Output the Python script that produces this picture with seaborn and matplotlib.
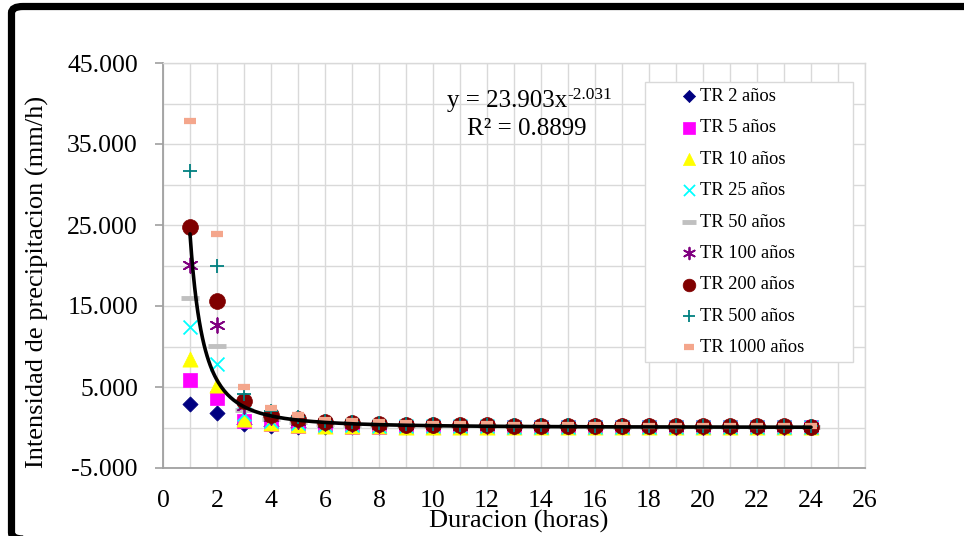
import numpy as np
import pandas as pd
import matplotlib
matplotlib.use('Agg')
import matplotlib.pyplot as plt
from matplotlib.patches import FancyBboxPatch, Rectangle
from matplotlib.ticker import MultipleLocator
import seaborn as sns

# Data (intensity in mm/h for each duration in hours)
duracion = list(range(1, 25))

tr2 = [2.9, 1.83, 0.38, 0.19, 0.12, 0.073, 0.059, 0.049, 0.042, 0.037, 0.033, 0.029,
       0.027, 0.025, 0.023, 0.021, 0.02, 0.019, 0.018, 0.017, 0.016, 0.015, 0.015, 0.014]
tr5 = [5.85, 3.7, 0.77, 0.38, 0.24, 0.15, 0.12, 0.1, 0.085, 0.076, 0.066, 0.059,
       0.055, 0.05, 0.047, 0.043, 0.04, 0.038, 0.036, 0.034, 0.033, 0.031, 0.03, 0.028]
tr10 = [8.4, 5.3, 1.1, 0.54, 0.34, 0.21, 0.17, 0.14, 0.12, 0.11, 0.095, 0.085,
        0.078, 0.071, 0.068, 0.061, 0.058, 0.054, 0.051, 0.049, 0.048, 0.044, 0.043, 0.041]
tr25 = [12.45, 7.9, 1.64, 0.81, 0.5, 0.31, 0.25, 0.21, 0.18, 0.16, 0.14, 0.13,
        0.12, 0.11, 0.1, 0.091, 0.086, 0.081, 0.076, 0.073, 0.071, 0.066, 0.063, 0.061]
tr50 = [16.0, 10.1, 2.1, 1.04, 0.65, 0.4, 0.32, 0.27, 0.23, 0.21, 0.18, 0.16,
        0.15, 0.14, 0.13, 0.12, 0.11, 0.1, 0.097, 0.094, 0.091, 0.084, 0.081, 0.078]
tr100 = [20.1, 12.7, 2.65, 1.3, 0.81, 0.5, 0.41, 0.34, 0.29, 0.26, 0.23, 0.2,
         0.19, 0.17, 0.16, 0.15, 0.14, 0.13, 0.12, 0.118, 0.114, 0.106, 0.102, 0.098]
tr200 = [24.7, 15.6, 3.25, 1.6, 1.0, 0.62, 0.5, 0.42, 0.36, 0.32, 0.28, 0.25,
         0.23, 0.21, 0.2, 0.18, 0.17, 0.16, 0.15, 0.145, 0.14, 0.13, 0.125, 0.12]
tr500 = [31.7, 20.0, 4.16, 2.05, 1.28, 0.79, 0.64, 0.54, 0.46, 0.41, 0.36, 0.32,
         0.29, 0.27, 0.26, 0.23, 0.22, 0.2, 0.19, 0.19, 0.18, 0.17, 0.16, 0.15]
tr1000 = [37.8, 23.9, 4.97, 2.45, 1.53, 0.95, 0.77, 0.64, 0.55, 0.49, 0.43, 0.38,
          0.35, 0.32, 0.31, 0.28, 0.26, 0.24, 0.23, 0.22, 0.21, 0.2, 0.19, 0.18]

labels = ['TR 2 años', 'TR 5 años', 'TR 10 años', 'TR 25 años', 'TR 50 años',
          'TR 100 años', 'TR 200 años', 'TR 500 años', 'TR 1000 años']

# power trend line shown on the chart
coef_a = 23.903
coef_b = -2.031
r2 = 0.8899

# Style
sns.set_theme(style='white')
plt.rcParams['font.family'] = ['Liberation Serif', 'DejaVu Serif']

series = [tr2, tr5, tr10, tr25, tr50, tr100, tr200, tr500, tr1000]
# marker, size, color, linewidth
styles = [
    ('D', 60, '#000080', 0),
    ('s', 110, '#FF00FF', 0),
    ('^', 120, '#FFFF00', 0),
    ('x', 100, '#00FFFF', 1.3),
    ('_', 170, '#C0C0C0', 3.5),
    ((6, 2, 0), 110, '#800080', 1.3),
    ('o', 130, '#800000', 0),
    ('+', 110, '#008080', 1.3),
    ('_', 80, '#F4A68C', 4.5),
]

fig = plt.figure(figsize=(9.64, 5.36), dpi=100)
ax = fig.add_axes([163 / 964, 1 - 468 / 536, 702 / 964, 405 / 536])

for vals, lab, (mk, sz, col, lw) in zip(series, labels, styles):
    if lw == 0:
        sns.scatterplot(x=duracion, y=vals, marker=mk, s=sz, color=col,
                        edgecolor=col, linewidth=0.5, label=lab, ax=ax, zorder=3)
    else:
        sns.scatterplot(x=duracion, y=vals, marker=mk, s=sz, color=col,
                        linewidth=lw, label=lab, ax=ax, zorder=3)

# trend line
xt = np.linspace(1, 24, 400)
yt = coef_a * xt ** coef_b
ax.plot(xt, yt, color='black', lw=2.6, zorder=4)

ax.set_xlim(0, 26)
ax.set_ylim(-5, 45)
ax.xaxis.set_major_locator(MultipleLocator(2))
ax.xaxis.set_minor_locator(MultipleLocator(1))
ax.set_yticks(np.arange(-5, 46, 10))
ax.yaxis.set_minor_locator(MultipleLocator(5))
ax.set_yticklabels([f'{v:.3f}' for v in np.arange(-5, 46, 10)])

ax.grid(which='both', color='#D9D9D9', lw=1.0)
ax.set_axisbelow(True)
ax.tick_params(axis='y', which='major', left=True, length=6, width=1.2,
               color='#A0A0A0', pad=12, labelsize=18.5, labelcolor='black')
ax.tick_params(axis='y', which='minor', left=False)
ax.tick_params(axis='x', which='both', bottom=False, length=0, pad=16,
               labelsize=18.5, labelcolor='black')
for side in ['left', 'bottom']:
    ax.spines[side].set_color('#A0A0A0')
    ax.spines[side].set_linewidth(1.3)
for side in ['top', 'right']:
    ax.spines[side].set_color('#D9D9D9')
    ax.spines[side].set_linewidth(1.0)

ax.set_xlabel('Duracion (horas)', fontsize=19, color='black')
ax.set_ylabel('Intensidad de precipitacion (mm/h)', fontsize=19, color='black')
ax.xaxis.set_label_coords(0.506, -0.104)
ax.yaxis.set_label_coords(-0.163, 0.459)

# equation text, exponent as a separate smaller text
eq = fig.text(507 / 964, 1 - 101 / 536, f'y = {coef_a:.3f}x',
              ha='center', va='center', fontsize=18, color='black')
ax.annotate(f'{coef_b:.3f}', xy=(1, 0.42), xycoords=eq, ha='left', va='bottom',
            fontsize=12.5, color='black')
fig.text(527 / 964, 1 - 129 / 536, f'R² = {r2:.4f}',
         ha='center', va='center', fontsize=18, color='black')

# legend: frameless legend plus a separate box like the original
leg = ax.legend(loc='upper left', bbox_to_anchor=(682 / 964, 1 - 88 / 536),
                bbox_transform=fig.transFigure, frameon=False, fontsize=13.3,
                borderpad=0, borderaxespad=0, handlelength=0.8,
                handletextpad=0.2, labelspacing=0.78, markerscale=0.8)
for t in leg.get_texts():
    t.set_color('black')
leg.set_zorder(6)
box = Rectangle((645 / 964, 1 - 362 / 536), 208 / 964, 280 / 536,
                transform=fig.transFigure, facecolor='white', edgecolor='#D9D9D9',
                lw=1.0, zorder=5)
fig.add_artist(box)
fig.add_artist(leg)

# outer chart border (rounded, cut off at right and bottom)
border = FancyBboxPatch((11.5 / 964, -3 / 536), 1000 / 964, 532.5 / 536,
                        boxstyle='round,pad=0,rounding_size=0.012',
                        transform=fig.transFigure, facecolor='none',
                        edgecolor='black', lw=5.2, clip_on=False)
fig.add_artist(border)

fig.savefig('out.png', dpi=100)
